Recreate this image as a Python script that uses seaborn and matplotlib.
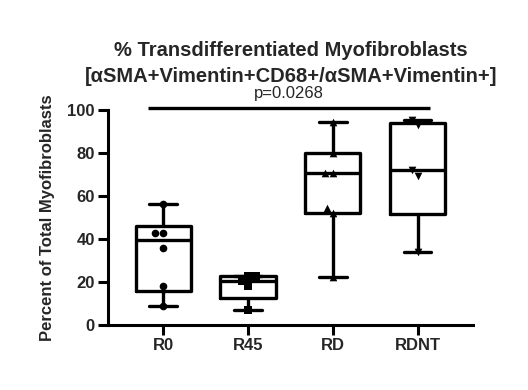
import matplotlib
matplotlib.use("Agg")
import matplotlib.pyplot as plt
import seaborn as sns
import numpy as np
import pandas as pd

# values (percent of total myofibroblasts)
groups = ["R0", "R45", "RD", "RDNT"]
r0_vals = [56.1, 42.9, 42.9, 35.7, 18.1, 8.8]
r45_vals = [22.6, 22.6, 20.5, 18.3, 7.0]
rd_vals = [94.3, 79.9, 70.8, 70.8, 54.5, 52.2, 22.5]
rdnt_vals = [95.3, 93.0, 72.0, 69.5, 33.8]
markers = ["o", "s", "^", "v"]
p_text = "p=0.0268"

df = pd.DataFrame({
    "group": ["R0"] * len(r0_vals) + ["R45"] * len(r45_vals)
             + ["RD"] * len(rd_vals) + ["RDNT"] * len(rdnt_vals),
    "value": r0_vals + r45_vals + rd_vals + rdnt_vals,
})

sns.set_style("ticks")
plt.rcParams["font.family"] = ["Liberation Sans", "DejaVu Sans"]

fig = plt.figure(figsize=(5.28, 3.9), dpi=100)
ax = fig.add_axes([0.2045, 0.1667, 0.691, 0.5513])

# Prism-style quartiles ((n+1)p method) instead of numpy's linear default
_percentile = np.percentile
np.percentile = lambda a, q, **kw: _percentile(a, q, method="weibull", **kw)
sns.boxplot(data=df, x="group", y="value", order=groups, whis=(0, 100),
            width=0.65, fill=False, color="black", linewidth=2.4,
            showfliers=False, ax=ax)
np.percentile = _percentile

for g, m in zip(groups, markers):
    sns.swarmplot(data=df[df["group"] == g], x="group", y="value", order=groups,
                  marker=m, color="black", size=5.5, ax=ax, clip_on=False)

ax.set_xlim(-0.65, 3.65)
ax.set_ylim(0, 100)
ax.set_yticks([0, 20, 40, 60, 80, 100])
ax.set_xlabel("")
ax.set_ylabel("Percent of Total Myofibroblasts", fontsize=12, fontweight="bold", labelpad=9)
ax.tick_params(axis="both", width=2.2, length=7.5, labelsize=12, color="black", pad=2)
for lab in ax.get_xticklabels() + ax.get_yticklabels():
    lab.set_fontweight("bold")
sns.despine(ax=ax)
for side in ["left", "bottom"]:
    ax.spines[side].set_linewidth(2.2)
    ax.spines[side].set_color("black")

# significance bar
ax.plot([-0.18, 3.14], [101, 101], color="black", lw=2.4, clip_on=False,
        solid_capstyle="butt")
ax.text(1.48, 104.3, p_text, ha="center", va="bottom", fontsize=12)

fig.text(0.551, 0.838,
         "% Transdifferentiated Myofibroblasts\n[αSMA+Vimentin+CD68+/αSMA+Vimentin+]",
         ha="center", va="center", fontsize=14.5, fontweight="bold", linespacing=1.45)

fig.savefig("out.png", dpi=100)
plt.close(fig)
